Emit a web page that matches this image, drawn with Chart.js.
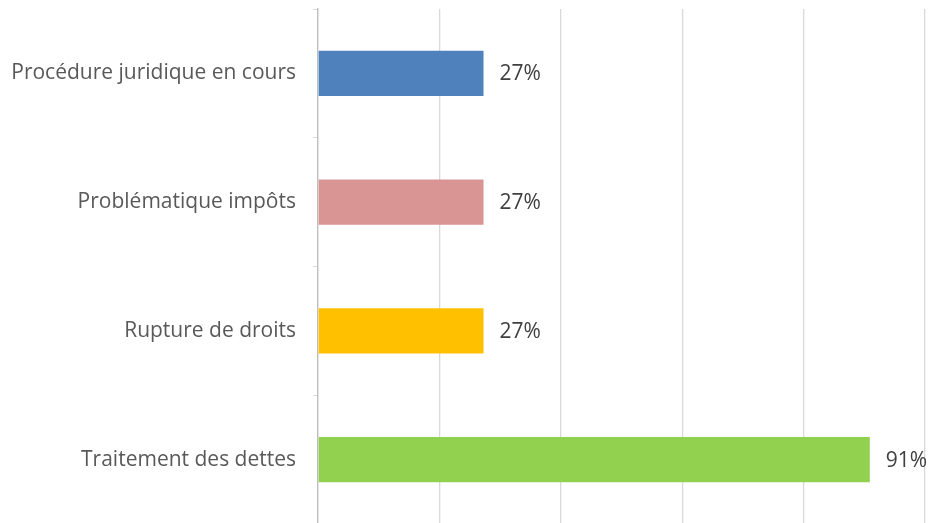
<!DOCTYPE html>
<html>
<head>
<meta charset="utf-8">
<script src="https://cdn.jsdelivr.net/npm/chart.js@4"></script>
<style>
  html, body { margin: 0; padding: 0; background: #fff; overflow: hidden; }
  #wrap { width: 929px; height: 525px; position: relative; }
</style>
</head>
<body>
<div id="wrap"><canvas id="myChart"></canvas></div>
<script>
// data (3/11 and 10/11 of respondents)
const categories = ['Procédure juridique en cours', 'Problématique impôts', 'Rupture de droits', 'Traitement des dettes'];
const values = [27.27, 27.27, 27.27, 90.91];
const valueLabels = ['27%', '27%', '27%', '91%'];
const barColors = ['#4F81BD', '#D99594', '#FFC000', '#92D050'];
const xTicks = [0, 20, 40, 60, 80, 100];

const fontFamily = "'Open Sans', 'Liberation Sans', sans-serif";

// draws the value next to each bar
const valueLabelPlugin = {
  id: 'valueLabels',
  afterDatasetsDraw(chart) {
    const c = chart.ctx;
    const meta = chart.getDatasetMeta(0);
    c.save();
    c.font = '21px ' + fontFamily;
    c.fillStyle = '#404040';
    c.textAlign = 'left';
    c.textBaseline = 'middle';
    meta.data.forEach((bar, i) => {
      c.fillText(valueLabels[i], bar.x + 16, bar.y + 1);
    });
    c.restore();
  }
};

const ctx = document.getElementById('myChart');

new Chart(ctx, {
  type: 'bar',
  data: {
    labels: categories,
    datasets: [{
      data: values,
      backgroundColor: barColors,
      borderWidth: 0,
      categoryPercentage: 1,
      barPercentage: 0.35
    }]
  },
  options: {
    indexAxis: 'y',
    responsive: true,
    maintainAspectRatio: false,
    animation: false,
    layout: { padding: { top: 9, right: 4, bottom: 1, left: 0 } },
    plugins: {
      legend: { display: false },
      tooltip: { enabled: false }
    },
    scales: {
      x: {
        min: 0,
        max: 100,
        afterBuildTicks: (scale) => { scale.ticks = xTicks.map(v => ({ value: v })); },
        ticks: { display: false },
        grid: { color: '#D9D9D9', lineWidth: 1.3, drawTicks: false },
        border: { display: false }
      },
      y: {
        afterFit: (scale) => {
          scale.width = 318;
          scale.paddingTop = 0;
          scale.paddingBottom = 0;
        },
        ticks: {
          color: '#595959',
          padding: 17,
          font: { family: fontFamily, size: 21 }
        },
        grid: { drawOnChartArea: false, drawTicks: true, tickLength: 5, color: '#D9D9D9' },
        border: { display: true, color: '#BFBFBF', width: 1.3 }
      }
    }
  },
  plugins: [valueLabelPlugin]
});
</script>
</body>
</html>
